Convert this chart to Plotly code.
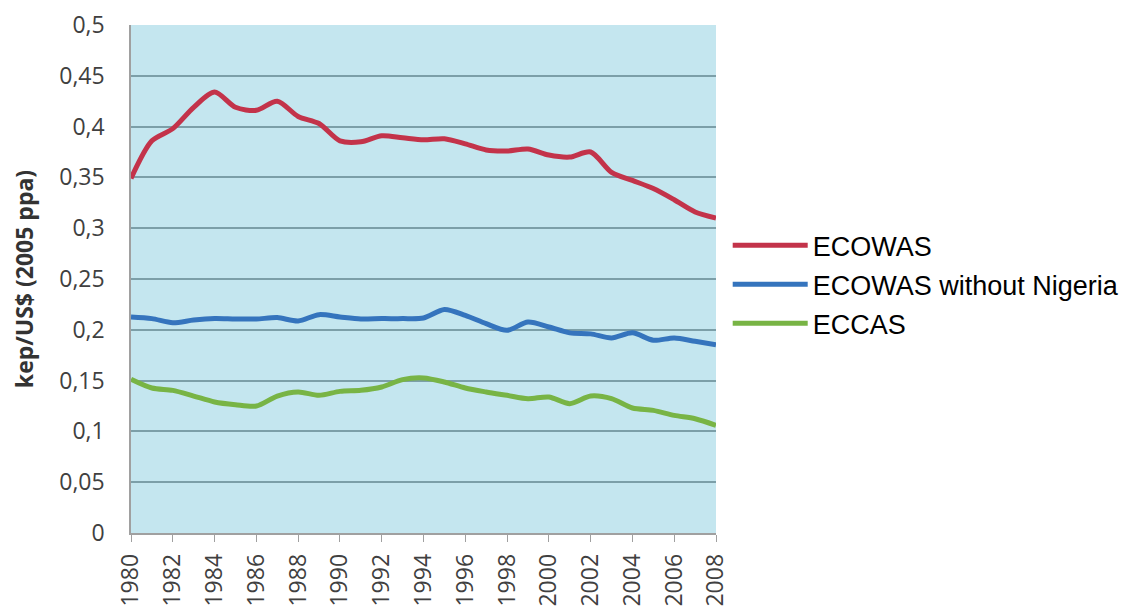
import plotly.graph_objects as go

years = list(range(1980, 2009))
ecowas = [0.349, 0.386, 0.398, 0.419, 0.434, 0.419, 0.416, 0.425, 0.410, 0.403,
          0.386, 0.385, 0.391, 0.389, 0.387, 0.388, 0.383, 0.377, 0.376, 0.378,
          0.372, 0.370, 0.375, 0.355, 0.347, 0.339, 0.328, 0.316, 0.310]
ecowas_wo_nigeria = [0.2126, 0.211, 0.207, 0.2096, 0.211, 0.2106, 0.2106, 0.212, 0.2087, 0.2149,
                     0.2126, 0.2106, 0.211, 0.211, 0.2116, 0.220, 0.2142, 0.206, 0.1995, 0.2077,
                     0.2028, 0.197, 0.196, 0.192, 0.197, 0.1897, 0.192, 0.1887, 0.1853]
eccas = [0.1513, 0.1427, 0.1404, 0.1348, 0.129, 0.1263, 0.125, 0.1348, 0.1388, 0.1355,
         0.1394, 0.1404, 0.1437, 0.151, 0.1526, 0.1486, 0.1427, 0.1388, 0.1355, 0.1322,
         0.1339, 0.1273, 0.1348, 0.1322, 0.123, 0.1207, 0.1158, 0.1125, 0.106]

series_names = ["ECOWAS", "ECOWAS without Nigeria", "ECCAS"]
series_values = [ecowas, ecowas_wo_nigeria, eccas]
series_colors = ["#C3334A", "#3574BD", "#78B445"]

y_tickvals = [0, 0.05, 0.1, 0.15, 0.2, 0.25, 0.3, 0.35, 0.4, 0.45, 0.5]
y_ticktext = ["0", "0,05", "0,1", "0,15", "0,2", "0,25", "0,3", "0,35", "0,4", "0,45", "0,5"]
x_tickvals = list(range(1980, 2009, 2))

fig = go.Figure()
for name, vals, col in zip(series_names, series_values, series_colors):
    fig.add_trace(go.Scatter(
        x=years, y=vals, mode="lines", name=name, legendgroup=name,
        line=dict(color=col, width=5, shape="spline", smoothing=0.8),
    ))

fig.update_layout(
    width=1131, height=605,
    margin=dict(l=123, r=423, t=17, b=80),
    paper_bgcolor="white",
    plot_bgcolor="#C4E6EF",
    showlegend=True,
    legend=dict(
        x=1.02, y=0.614, xanchor="left", yanchor="top",
        font=dict(family="Liberation Sans, Arial", size=27, color="black"),
        itemwidth=75, tracegroupgap=1, bgcolor="rgba(0,0,0,0)",
    ),
    xaxis=dict(
        range=[1980, 2008], tickvals=x_tickvals, ticktext=[str(v) for v in x_tickvals],
        tickangle=-90, ticks="outside", ticklen=7, tickcolor="#A0A0A0",
        showgrid=False, showline=True, linecolor="#A0A0A0", linewidth=1.5,
        tickfont=dict(family="Open Sans, DejaVu Sans", size=23, color="#404040"),
        zeroline=False, automargin=False, ticklabelstandoff=3,
        ticklabeloverflow="allow",
    ),
    yaxis=dict(
        range=[0, 0.5], tickvals=y_tickvals, ticktext=y_ticktext,
        showgrid=True, gridcolor="#7C9FA8", gridwidth=2,
        showline=True, linecolor="#A0A0A0", linewidth=1.5,
        ticks="", zeroline=False, automargin=False, ticklabelstandoff=20,
        ticklabeloverflow="allow",
        tickfont=dict(family="Open Sans, DejaVu Sans", size=23, color="#404040"),
        title=dict(text="<b>kep/US$ (2005 ppa)</b>", standoff=21,
                   font=dict(family="Open Sans, DejaVu Sans", size=23, color="#333333")),
    ),
)

fig.write_html("out.html")
